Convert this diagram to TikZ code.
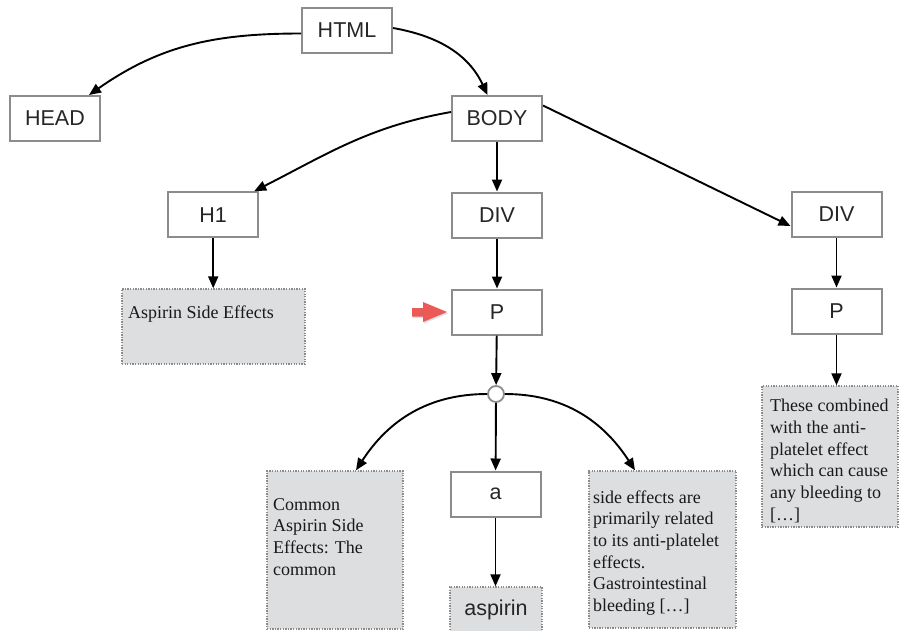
\documentclass[tikz,border=0pt]{standalone}
\usepackage{fontspec}
\setmainfont{Liberation Serif}
\newfontfamily\tagfont{Liberation Sans}
\usetikzlibrary{arrows.meta,shadows}
\definecolor{boxline}{RGB}{138,140,142}
\definecolor{leafgray}{RGB}{221,222,224}
\definecolor{dotgray}{RGB}{140,140,140}
\definecolor{pointer}{RGB}{234,90,86}
% lines of a text block, first baseline is the block's baseline
\newcommand{\paralines}[1]{\vtop{\baselineskip=21.7pt\lineskiplimit=-10pt #1}}
\begin{document}
\begin{tikzpicture}[x=1pt,y=-1pt,
  tagbox/.style={draw=boxline, line width=2pt, fill=white, minimum width=90pt,
    minimum height=45pt, inner sep=0pt, font=\tagfont\fontsize{21.5}{25}\selectfont, text=black!85},
  leaf/.style={draw=dotgray, fill=leafgray, line width=1.4pt, dash pattern=on 1.3pt off 1.3pt,
    inner sep=0pt},
  leaftext/.style={anchor=base west, inner sep=0pt, font=\fontsize{18}{21.7}\selectfont, text=black!90},
  link/.style={line width=1.9pt, -{Triangle[length=12pt,width=10pt]}},
]
\useasboundingbox (0,0) rectangle (904,630);
\clip (0,0) rectangle (904,630);

% element nodes
\node[tagbox] (html) at (347,30.5) {HTML};
\node[tagbox] (head) at (55,118.5) {HEAD};
\node[tagbox] (body) at (497,118.5) {BODY};
\node[tagbox] (h1) at (213.2,214.7) {H1};
\node[tagbox] (div1) at (497,215) {DIV};
\node[tagbox] (div2) at (836.5,214) {DIV};
\node[tagbox] (p1) at (497,312) {P};
\node[tagbox] (p2) at (836.5,311) {P};
\node[tagbox] (a) at (495.5,494) {a};
\node[circle, draw=boxline, line width=1.8pt, fill=white, minimum size=16pt, inner sep=0pt] (j) at (496,394) {};

% text leaves
\node[leaf, minimum width=183pt, minimum height=75pt] (t1) at (213.4,326.5) {};
\node[leaf, minimum width=136pt, minimum height=158pt] (t2) at (335,550) {};
\node[leaf, minimum width=147pt, minimum height=157pt] (t3) at (662.5,549.5) {};
\node[leaf, minimum width=92pt, minimum height=63pt] (t4) at (495.8,618.5) {};
\node[leaf, minimum width=136pt, minimum height=141pt] (t5) at (830,456.5) {};

\node[leaftext] (t1txt) at (128,318) {Aspirin Side Effects};
\node[leaftext] (t2txt) at (273,510) {\paralines{\hbox{Common}\hbox{Aspirin Side}\hbox{Effects: The}\hbox{common}}};
\node[leaftext] (t3txt) at (593,503) {\paralines{\hbox{side effects are}\hbox{primarily related}\hbox{to its anti-platelet}\hbox{effects.}\hbox{Gastrointestinal}\hbox{bleeding […]}}};
\node[leaftext] (t5txt) at (770,411.7) {\paralines{\hbox{These combined}\hbox{with the anti-}\hbox{platelet effect}\hbox{which can cause}\hbox{any bleeding to}\hbox{[…]}}};
\node[anchor=base, inner sep=0pt, font=\tagfont\fontsize{21.5}{25}\selectfont, text=black!85] (t4txt) at (496,615) {aspirin};

% connectors
\draw[link] ([yshift=-3pt]html.west) to[out=180,in=35] ([xshift=34pt]head.north);
\draw[link] ([yshift=2.5pt]html.east) to[out=-10,in=115] ([xshift=-9.5pt]body.north);
\draw[link] ([yshift=6.5pt]body.west) to[out=190,in=27] ([xshift=-5pt]h1.north east);
\draw[link] (body) -- (div1);
\draw[link] ([yshift=13pt]body.east) -- ([yshift=-12pt]div2.west);
\draw[link] (h1.south) -- (h1.south |- t1.north);
\draw[link] (div1) -- (p1);
\draw[link] (p1) -- (j);
\draw[link] (j.west) to[out=180,in=57] ([xshift=21pt]t2.north);
\draw[link] (j.east) to[out=0,in=123] ([xshift=-27.5pt]t3.north);
\draw[link] (j) -- (a);
\draw[link] (a) -- (a.south |- t4.north);
\draw[link] (div2) -- (p2);
\draw[link] (p2.south) -- (p2.south |- t5.north);

% pointer marking the paragraph
\fill[pointer, drop shadow={opacity=0.25, shadow xshift=1pt, shadow yshift=-1.5pt}]
  (412,308) -- (423,308) -- (423,302) -- (447,312) -- (423,322) -- (423,316.5) -- (412,316.5) -- cycle;
\end{tikzpicture}
\end{document}
